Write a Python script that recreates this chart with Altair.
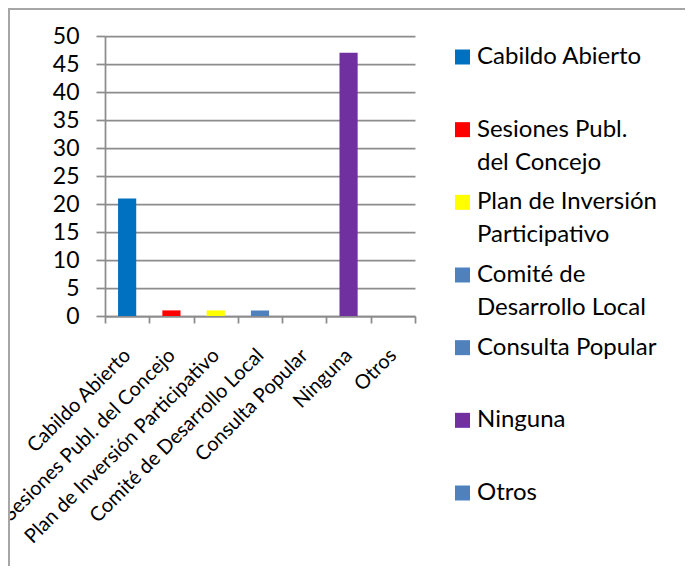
import altair as alt
import pandas as pd

categories = [
    "Cabildo Abierto",
    "Sesiones Publ. del Concejo",
    "Plan de Inversión Participativo",
    "Comité de Desarrollo Local",
    "Consulta Popular",
    "Ninguna",
    "Otros",
]
values = [21, 1, 1, 1, 0, 47, 0]
colors = ["#0070C0", "#FF0000", "#FFFF00", "#4F81BD", "#4F81BD", "#7030A0", "#4F81BD"]
legend_lines = [
    ["Cabildo Abierto"],
    ["Sesiones Publ.", "del Concejo"],
    ["Plan de Inversión", "Participativo"],
    ["Comité de", "Desarrollo Local"],
    ["Consulta Popular"],
    ["Ninguna"],
    ["Otros"],
]
y_ticks = list(range(0, 51, 5))

FONT = "Lato"
GRAY = "#8c8c8c"

df = pd.DataFrame({"cat": categories, "val": values})
leg_df = pd.DataFrame({"cat": categories, "lines": legend_lines})

color_enc = alt.Color(
    "cat:N", sort=categories, scale=alt.Scale(domain=categories, range=colors), legend=None
)

bars = alt.Chart(df).mark_bar(width=alt.RelativeBandSize(0.41)).encode(
    x=alt.X(
        "cat:N",
        sort=categories,
        scale=alt.Scale(paddingInner=0, paddingOuter=0),
        axis=alt.Axis(
            title=None,
            labelAngle=-45,
            labelAlign="right",
            labelBaseline="middle",
            labelFont=FONT,
            labelFontSize=20,
            labelColor="black",
            labelPadding=29,
            labelLimit=500,
            tickBand="extent",
            tickSize=7,
            tickColor=GRAY,
            tickWidth=1.75,
            domainColor=GRAY,
            domainWidth=1.75,
            grid=False,
        ),
    ),
    y=alt.Y(
        "val:Q",
        scale=alt.Scale(domain=[0, 50], nice=False),
        axis=alt.Axis(
            title=None,
            values=y_ticks,
            labelFont=FONT,
            labelFontSize=23,
            labelColor="black",
            labelPadding=17,
            tickSize=9,
            tickColor=GRAY,
            tickWidth=1.75,
            domainColor=GRAY,
            domainWidth=1.75,
            gridColor=GRAY,
            gridWidth=1.75,
        ),
    ),
    color=color_enc,
)

# legend drawn from the same categories through an ordinal scale
leg_y = alt.Y(
    "cat:N",
    sort=categories,
    scale=alt.Scale(domain=categories, range=[21, 457], padding=0),
    axis=None,
)
leg_sym = alt.Chart(leg_df).mark_square(size=225, opacity=1).encode(
    x=alt.value(357.5), y=leg_y, color=color_enc
)
leg_txt = alt.Chart(leg_df).mark_text(
    align="left", baseline="middle", font=FONT, fontSize=24, lineHeight=33, color="black"
).encode(x=alt.value(372), y=leg_y, text="lines")

frame_df = pd.DataFrame({"k": [0]})
frame_left = alt.Chart(frame_df).mark_rule(color="#a6a6a6", strokeWidth=2).encode(
    x=alt.value(-96), y=alt.value(-27), y2=alt.value(600)
)
frame_top = alt.Chart(frame_df).mark_rule(color="#a6a6a6", strokeWidth=2).encode(
    x=alt.value(-97), x2=alt.value(700), y=alt.value(-27)
)

chart = (
    alt.layer(bars, leg_sym, leg_txt, frame_left, frame_top)
    .resolve_scale(y="independent")
    .properties(
        width=310,
        height=280,
        autosize=alt.AutoSizeParams(type="none"),
        padding={"left": 97, "top": 28, "right": 270, "bottom": 250},
        background="white",
    )
    .configure_view(stroke=None)
)

chart.save("out.html", embed_options={"renderer": "svg", "actions": False})
